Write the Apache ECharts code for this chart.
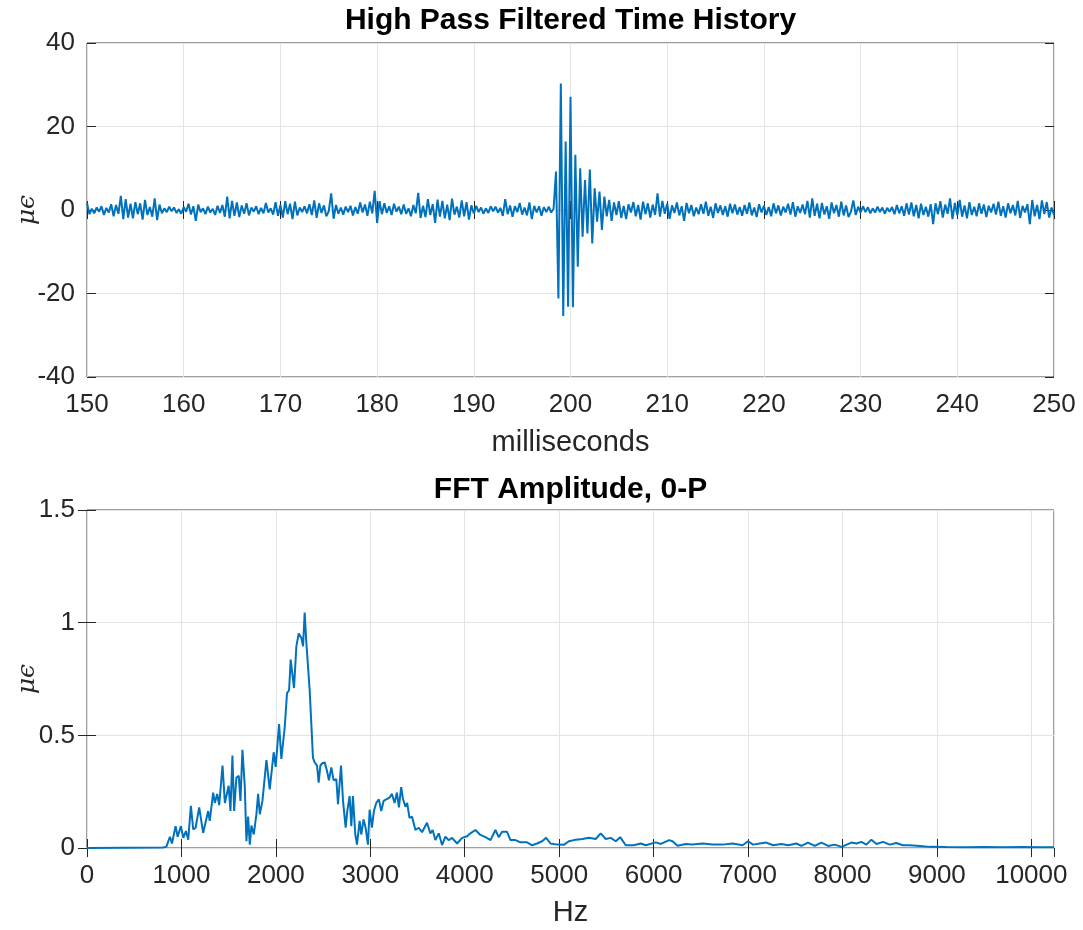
<!DOCTYPE html>
<html>
<head>
<meta charset="utf-8">
<script src="https://cdn.jsdelivr.net/npm/echarts@6/dist/echarts.min.js"></script>
<style>
html,body{margin:0;padding:0;background:#fff;}
#chart{width:1083px;height:930px;}
</style>
</head>
<body>
<div id="chart"></div>
<script>
// ---------- DATA ----------
const titleTop = 'High Pass Filtered Time History';
const titleBottom = 'FFT Amplitude, 0-P';
const xNameTop = 'milliseconds';
const xNameBottom = 'Hz';
const yName = 'μϵ';

// time history: samples start at 150 ms, step 0.25 ms (values in microstrain)
const timeStartMs = 150;
const timeStepMs = 0.25;
const timeValues = [
  1.7,-1.0,0.3,-0.8,0.6,-0.4,0.9,-1.2,
  0.5,-0.6,1.4,-1.5,1.2,-0.9,3.4,-2.2,
  2.6,-1.8,1.5,-2.0,1.9,-1.0,1.6,-2.3,
  2.4,-1.2,0.7,-1.6,2.8,-2.4,1.3,-0.8,
  0.4,-0.5,0.8,-0.3,0.6,-0.7,0.2,-0.9,
  0.7,-0.4,1.5,-1.1,0.9,-2.6,1.3,-0.5,
  0.4,-1.0,0.8,-0.6,0.3,-1.2,1.0,-0.7,
  1.2,-1.6,3.2,-2.0,2.2,-1.4,1.8,-1.7,
  1.1,-0.9,1.6,-1.3,0.6,-0.4,0.9,-1.0,
  0.5,-0.8,1.7,-0.6,0.4,-1.1,1.9,-1.4,
  1.2,-1.8,2.1,-1.0,1.5,-2.2,2.0,-1.3,
  0.6,-0.5,0.9,-0.8,1.4,-1.2,2.3,-1.9,
  1.6,-0.7,1.1,-1.5,-0.3,4.0,-2.1,1.2,
  -0.9,0.6,-1.1,0.8,-0.5,1.0,-1.3,0.7,
  -0.9,1.8,-0.6,1.3,-1.4,2.0,-0.8,4.6,
  -3.1,2.1,-1.0,1.6,-0.7,0.9,-1.2,1.5,
  -0.4,0.8,-1.0,1.3,-0.9,0.4,-1.5,1.2,
  -0.8,4.1,-1.9,1.0,-1.7,2.6,-1.2,1.4,
  -3.1,2.5,-1.6,2.2,-2.0,1.3,-2.4,2.7,
  -1.1,0.8,-1.8,2.3,-1.5,1.9,-2.3,1.1,
  -0.8,1.0,-0.5,0.6,-0.9,0.4,-0.7,0.9,
  -0.3,0.8,-0.6,0.5,-1.4,2.6,-1.0,1.1,
  -1.6,0.9,-0.5,1.7,-1.1,0.6,-1.3,1.8,
  -2.2,1.0,-0.6,0.9,-1.4,0.7,-0.5,0.8,
  -0.6,0.3,9.2,-21.2,30.3,-25.4,16.4,-23.2,
  27.1,-23.3,13.2,-13.6,10.0,-6.4,7.2,-5.6,
  9.7,-8.0,5.2,-2.8,4.4,-4.8,3.2,-1.5,
  2.4,-2.6,1.8,-1.2,2.1,-1.9,1.0,-2.2,
  1.4,-0.6,1.9,-1.5,1.2,-2.3,2.0,-1.0,
  1.6,-1.8,1.3,-1.2,4.0,-1.6,2.2,-0.9,
  1.5,-2.1,1.1,-0.7,1.8,-1.3,0.9,-2.6,
  1.7,-0.8,1.2,-1.5,0.6,-1.0,1.4,-0.9,
  2.0,-1.4,0.8,-1.9,1.6,-0.7,1.1,-1.2,
  0.9,-1.6,1.5,-0.8,1.3,-1.1,0.7,-1.4,
  1.2,-0.9,1.8,-1.3,0.6,-1.7,1.4,-0.6,
  1.0,-1.2,0.7,-1.5,1.6,-0.8,1.1,-1.3,
  0.8,-0.6,1.5,-1.1,1.9,-1.6,0.9,-0.7,
  1.3,-1.0,2.2,-1.8,2.8,-1.4,1.5,-2.0,
  1.7,-1.1,0.9,-2.1,1.8,-0.8,1.2,-1.6,
  2.0,-1.3,1.1,-1.7,-0.4,2.3,-1.2,0.8,
  -0.6,0.9,-0.5,0.7,-0.8,0.4,-0.6,0.8,
  -0.5,0.6,-0.9,0.5,-0.4,0.7,-1.0,1.2,
  -0.8,0.9,-1.4,1.6,-1.1,1.8,-1.5,1.2,
  -2.0,1.5,-1.2,0.8,-1.6,1.4,-3.4,1.6,
  -1.0,2.1,-1.8,1.3,-0.9,2.8,-2.2,1.7,
  -1.3,2.4,-1.6,1.1,-2.0,1.9,-1.2,0.8,
  -1.5,1.6,-0.9,1.3,-1.7,1.0,-0.6,1.5,
  -1.1,2.0,-1.4,0.9,-1.8,1.6,-0.8,1.2,
  -1.3,2.2,-1.9,1.0,-0.6,1.4,-3.4,2.4,
  -1.5,1.2,-2.2,2.3,-1.0,1.9,-1.8,0.6,
  -1.2
];

// FFT amplitude: frequency (Hz) and amplitude (microstrain, 0-peak)
const fftHz = [
  0,800,840,878,900,938,960,994,1020,1047,1072,1100,1125,1150,1188,1230,1283,1300,1336,1354,
  1378,1400,1435,1460,1500,1519,1540,1558,1582,1607,1625,1646,1671,1688,1706,1724,1741,1766,1794,1812,
  1830,1858,1900,1935,1977,1998,2034,2058,2094,2118,2140,2157,2192,2217,2242,2270,2288,2305,2323,2358,
  2393,2411,2436,2453,2471,2492,2517,2541,2562,2587,2612,2640,2658,2690,2711,2739,2756,2781,2799,2816,
  2841,2859,2887,2904,2929,2950,2975,2993,3017,3038,3063,3091,3116,3141,3169,3204,3229,3257,3282,3303,
  3327,3345,3372,3390,3415,3442,3478,3513,3548,3600,3636,3660,3689,3725,3760,3795,3830,3866,3919,3972,
  4025,4060,4113,4166,4220,4273,4325,4360,4396,4448,4484,4537,4590,4660,4713,4766,4820,4862,4908,4979,
  5050,5103,5156,5246,5316,5387,5440,5493,5546,5600,5646,5705,5790,5864,5917,6023,6076,6165,6200,6253,
  6340,6412,6518,6624,6730,6837,6943,7000,7053,7124,7194,7265,7353,7424,7512,7565,7635,7706,7777,7848,
  7918,7990,8095,8148,8200,8253,8306,8360,8430,8500,8570,8640,8710,8820,8927,9100,9300,9500,9700,9900,
  10100,10240
];
const fftAmp = [
  0,0.002,0.005,0.05,0.02,0.097,0.05,0.097,0.045,0.075,0.037,0.187,0.082,0.09,0.18,0.067,0.164,0.12,0.246,0.2,
  0.24,0.19,0.366,0.2,0.276,0.164,0.41,0.164,0.313,0.32,0.209,0.436,0.27,0.03,0.14,0.015,0.1,0.06,0.15,0.24,
  0.15,0.21,0.39,0.26,0.425,0.36,0.55,0.395,0.537,0.687,0.70,0.836,0.71,0.895,0.952,0.933,0.895,1.045,0.91,0.70,
  0.40,0.38,0.366,0.29,0.366,0.376,0.38,0.343,0.30,0.358,0.30,0.306,0.194,0.366,0.209,0.09,0.164,0.23,0.097,0.23,
  0.06,0.015,0.12,0.06,0.127,0.09,0.015,0.17,0.09,0.164,0.20,0.216,0.164,0.209,0.216,0.224,0.24,0.2,0.246,0.18,
  0.27,0.22,0.183,0.20,0.134,0.139,0.08,0.09,0.07,0.112,0.065,0.08,0.035,0.065,0.013,0.05,0.035,0.045,0.02,0.045,
  0.052,0.065,0.08,0.058,0.048,0.035,0.08,0.048,0.072,0.072,0.035,0.035,0.025,0.025,0.012,0.02,0.03,0.045,0.02,0.015,
  0.014,0.03,0.035,0.04,0.045,0.04,0.065,0.04,0.045,0.03,0.048,0.012,0.012,0.02,0.012,0.025,0.018,0.035,0.03,0.01,
  0.018,0.016,0.02,0.016,0.015,0.02,0.012,0.03,0.015,0.02,0.024,0.012,0.018,0.012,0.02,0.009,0.024,0.009,0.024,0.009,
  0.015,0.005,0.024,0.02,0.027,0.015,0.037,0.018,0.027,0.015,0.022,0.012,0.012,0.009,0.005,0.004,0.003,0.004,0.003,0.004,
  0.003,0.003
];

// axis ranges / ticks
const topX = {min:150, max:250, interval:10};
const topY = {min:-40, max:40, interval:20};
const botX = {min:0, max:10240, interval:1000};
const botY = {min:0, max:1.5, interval:0.5};

// ---------- CHART ----------
const FONT = '"Liberation Sans", Arial, Helvetica, sans-serif';
const AX = '#262626';
const GRIDC = '#e3e3e3';
const LINE = '#0072BD';
const plain = v => String(v);

const timeData = timeValues.map((v, i) => [timeStartMs + i * timeStepMs, v]);
const fftData = fftHz.map((f, i) => [f, fftAmp[i]]);

function mainX(gridIndex, r, name, nameGap) {
  return {
    type:'value', gridIndex, min:r.min, max:r.max, interval:r.interval, position:'bottom',
    axisLine:{show:false},
    axisTick:{show:true, inside:true, length:9, lineStyle:{color:AX, width:1}},
    axisLabel:{show:true, color:AX, fontSize:26, fontFamily:FONT, margin:15, formatter:plain,
               showMaxLabel: r.max % r.interval === 0},
    splitLine:{show:true, lineStyle:{color:GRIDC, width:1}},
    name, nameLocation:'middle', nameGap, nameMoveOverlap:false,
    nameTextStyle:{color:AX, fontSize:29, fontFamily:FONT}
  };
}
function sideX(gridIndex, r) {
  return {
    type:'value', gridIndex, min:r.min, max:r.max, interval:r.interval, position:'top',
    axisLine:{show:false},
    axisTick:{show:true, inside:true, length:9, lineStyle:{color:AX, width:1}},
    axisLabel:{show:false}, splitLine:{show:false}
  };
}
function mainY(gridIndex, r) {
  return {
    type:'value', gridIndex, min:r.min, max:r.max, interval:r.interval, position:'left',
    axisLine:{show:false},
    axisTick:{show:true, inside:true, length:9, lineStyle:{color:AX, width:1}},
    axisLabel:{show:true, color:AX, fontSize:26, fontFamily:FONT, margin:12, formatter:plain},
    splitLine:{show:true, lineStyle:{color:GRIDC, width:1}},
    name:yName, nameLocation:'middle', nameGap:47, nameRotate:90, nameMoveOverlap:false,
    nameTextStyle:{color:AX, fontSize:25, fontStyle:'italic', fontFamily:'"DejaVu Serif", serif'}
  };
}
function sideY(gridIndex, r) {
  return {
    type:'value', gridIndex, min:r.min, max:r.max, interval:r.interval, position:'right',
    axisLine:{show:false},
    axisTick:{show:true, inside:true, length:9, lineStyle:{color:AX, width:1}},
    axisLabel:{show:false}, splitLine:{show:false}
  };
}

const chart = echarts.init(document.getElementById('chart'), null, {renderer:'canvas'});
chart.setOption({
  animation:false,
  backgroundColor:'#ffffff',
  grid:[
    {left:87, right:29, top:43, height:334, containLabel:false, outerBoundsMode:'none',
     show:true, borderColor:'#404040', borderWidth:1, backgroundColor:'transparent'},
    {left:87, right:29, top:510, height:338, containLabel:false, outerBoundsMode:'none',
     show:true, borderColor:'#404040', borderWidth:1, backgroundColor:'transparent'}
  ],
  xAxis:[ mainX(0, topX, xNameTop, 51), sideX(0, topX), mainX(1, botX, xNameBottom, 50), sideX(1, botX) ],
  yAxis:[ mainY(0, topY), sideY(0, topY), mainY(1, botY), sideY(1, botY) ],
  graphic:[
    {type:'text', x:570.5, y:21, style:{text:titleTop, fill:'#000', font:'bold 30px ' + FONT, textAlign:'center', textVerticalAlign:'middle'}},
    {type:'text', x:570.5, y:490, style:{text:titleBottom, fill:'#000', font:'bold 30px ' + FONT, textAlign:'center', textVerticalAlign:'middle'}}
  ],
  series:[
    {type:'line', xAxisIndex:0, yAxisIndex:0, data:timeData, showSymbol:false, symbol:'none',
     lineStyle:{color:LINE, width:2}, clip:true, z:3},
    {type:'line', xAxisIndex:2, yAxisIndex:2, data:fftData, showSymbol:false, symbol:'none',
     lineStyle:{color:LINE, width:2}, clip:true, z:3}
  ]
});
</script>
</body>
</html>
